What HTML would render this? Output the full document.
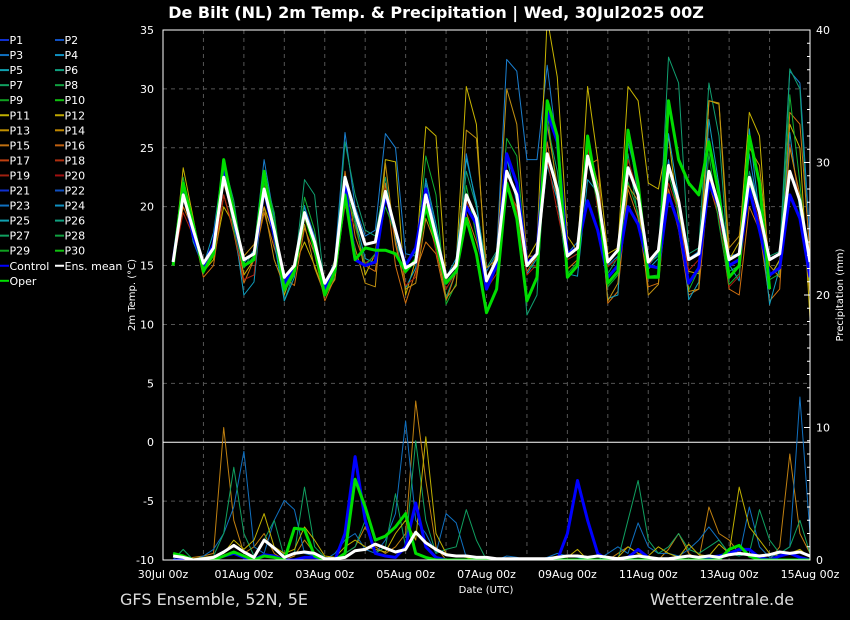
<!DOCTYPE html>
<html><head><meta charset="utf-8"><style>
html,body{margin:0;padding:0;background:#000;}
svg{display:block;font-family:"DejaVu Sans","Liberation Sans",sans-serif;}
</style></head><body>
<svg id="c" width="850" height="620" viewBox="0 0 850 620">
<rect x="0" y="0" width="850" height="620" fill="#000"/>
<text x="436" y="18" text-anchor="middle" fill="#fff" font-size="16" font-weight="bold">De Bilt  (NL)  2m Temp. &amp; Precipitation | Wed, 30Jul2025 00Z</text>
<g id="grid"></g>
<defs><clipPath id="pc"><rect x="163" y="30" width="647" height="530"/></clipPath></defs>
<g id="series" clip-path="url(#pc)"></g>
<g id="axes"></g>
<g id="legend"></g>
<text x="135" y="295" transform="rotate(-90 135 295)" text-anchor="middle" fill="#fff" font-size="10">2m Temp. (°C)</text>
<text x="843" y="295" transform="rotate(-90 843 295)" text-anchor="middle" fill="#fff" font-size="10">Precipitation (mm)</text>
<text x="486" y="593" text-anchor="middle" fill="#fff" font-size="10">Date (UTC)</text>
<text x="120" y="605" fill="#ddd" font-size="16">GFS Ensemble, 52N, 5E</text>
<text x="650" y="605" fill="#ddd" font-size="16">Wetterzentrale.de</text>
</svg>
<script>
const xTicks = ["30Jul 00z","01Aug 00z","03Aug 00z","05Aug 00z","07Aug 00z","09Aug 00z","11Aug 00z","13Aug 00z","15Aug 00z"];
const tempTicks = [-10,-5,0,5,10,15,20,25,30,35];
const precipTicks = [0,10,20,30,40];
const meanT = [15.3,21,18,15.2, 16.5,22.5,19,15.5, 16,21.5,18,14, 15,19.5,17,13.5, 15,22.5,19.5,16.8, 17,21.3,18,14.8, 15.3,21,17.5,14, 15,21,19,13.7, 15.5,23,21,15, 16,24.5,21.5,15.8, 16.5,24.3,21,15.3, 16.3,23.3,21,15.3, 16.3,23.5,20.5,15.5, 16,23,20,15.5, 16,22.5,19.5,15.5, 16,23,20.5,15.3];
const controlT = [15.3,21.5,17.5,15, 16.8,23,19,15, 15.5,21.5,17.5,13.5, 14.8,19.5,17,13, 14.5,22,15.5,15, 15.3,21,18,15, 16.5,21.5,17,13.5, 14.5,20,18.5,13, 15,24.5,22,15.2, 16,28,25.5,16, 16.5,20.5,18,14, 15,20,18.5,15, 14.8,21,18.5,13.5, 14.8,22,20,15, 15.5,21.5,18,14.2, 14.8,21,19,14];
const operT = [15,22,18.5,14.5, 16,24,19.5,15, 15.5,23,18,13, 14.5,19.5,16.5,12.5, 14.5,21,15.5,16.5, 16.3,16.3,16,14.5, 15.5,20,17,13.5, 14.5,19,16,11, 13,22,19,12, 14,29,26,14, 15,26,21,13.5, 14.5,26.5,22,14, 14,29,24,22, 21,25.5,21,14, 15,26,22,13];
const memberT1 = [15.2,22,17,14.8, 16.2,24,18.5,15.2, 16.3,24,19,13.5, 14.8,20,17.5,13.2, 15.5,26.3,20,17.5, 18,26.2,25,16, 15.8,22,18,13.8, 15,24.5,20,14.5, 16,32.5,31.5,24, 24,32,25,16, 17,25,22,15, 15.8,25.5,22,15, 16,24,19,15.6, 16.2,25.8,21,15.8, 16,24.5,19,14, 15.4,31.5,30.5,17];
const memberT2 = [15,23.3,19,14.5, 15.5,20,18.5,14.2, 15.5,20,17.5,12.5, 15,17,15,12.5, 15.5,21,19,14.2, 16,24,23.8,12.5, 15.5,26.8,26,13.8, 15.3,30.2,27,13.5, 16,21.5,20,15.5, 17,36,31,17.5, 16.2,30.2,24,16, 16.5,30.2,29,22, 21.5,26,19,14.5, 14.3,29,28.7,15.5, 17,28,26,14, 15.5,27,25,10.5];
const memberT3 = [15.4,21,17.5,15.2, 16.8,23.8,20.5,14.8, 16.3,22.8,19.5,12, 14.5,22.3,21,13, 14.8,25.5,21,18, 17.5,22.5,17,15, 16.2,21,18,12.3, 14.5,23,20,14.8, 16.2,24,22,10.8, 12.5,27,23,15.5, 16,25,22,14.3, 15.7,24.5,19,15.2, 15.8,32.7,30.5,16, 16.5,30.5,26,14.5, 15,23,20,15.8, 16.2,31.7,30,15];
const memberT4 = [15,20,18,14, 15,21,17.8,13.5, 15.5,19.5,16.5,14, 13.3,18.2,16,12, 14,23,17.5,15, 14.5,22,15,11.8, 14.5,17,16,12, 14.5,19.5,17,14, 15.5,21.5,20,14.5, 15.8,25.5,20.5,14.7, 15.5,23.5,24,11.8, 12.8,21.5,19,13.2, 13.5,21.5,18,12.5, 13,22,19,13, 12.5,20,18,12, 13,28,27,16];
const memberT5 = [15.3,21.2,17,15, 17.8,23.9,18.5,12.5, 13.6,22,17,12, 14,20.1,16,13.5, 14.9,22.5,19,15.6, 15.2,21,17.3,13.1, 14.8,22.4,18.5,14, 15.6,24.1,20.4,14, 15.3,24.2,20.3,14.3, 15.6,23.5,20.6,14.3, 14.1,22.3,21.2,12.2, 12.5,26.3,21.1,14.7, 15.6,26.2,20.8,12.1, 13.6,27.4,21.8,15.1, 13.7,26.6,19.2,11.7, 14.8,26.3,19.6,14.5];
const memberT6 = [15.2,19.5,17.5,14.5, 15.8,21,18,13.8, 14.2,22,17,13.5, 14.5,19,16.5,12.8, 14.9,20,18.3,15.2, 15.8,21.5,17,13.3, 14,20,16.2,13, 14.5,20.5,18.2,13, 14.3,22.2,19.7,14.2, 15.1,24,19.6,15.5, 16,25.1,19.8,14.9, 15.6,24,21.2,15, 16.3,22,19.5,14.6, 15.5,22.4,19,13.2, 14.1,21.8,18.7,14.1, 14.9,25.3,20.4,14.2];
const memberT7 = [15.2,22.5,18,14.3, 16.3,23,18,14.8, 15.8,22,19.5,12.8, 14.2,20.8,18,12.8, 14,22,18.5,15, 16,20,17.7,14.5, 15.3,24.3,21,11.7, 13.5,21.8,17.5,13, 15.3,25.8,24.3,15, 14.8,28.1,21,14.3, 15.3,24,20.3,13.2, 14.2,22.1,19.5,14.1, 14.2,22.8,19.5,12.9, 14.7,24.5,18.5,13.4, 14.3,22.2,17.8,13.8, 14.3,29.5,22,13.2];
const memberT8 = [15,21.5,18.5,14.8, 16.5,22,19,15.8, 16.8,20,15.5,13.2, 14.5,18.5,14.8,12.5, 13.8,20.5,16.5,13.5, 13.2,23.7,16.8,13, 13.5,19,16.7,12.2, 13.3,26.5,25.8,14.8, 15.5,30,27,15.8, 15.8,27,21.8,15.8, 16.5,25.5,22,12, 13.5,21.8,20.5,12.5, 13.4,23.2,20.4,12.8, 13,29,28.8,16.5, 17.5,25,23.5,15, 14,25,21,12.6];
const meanP = [0.3,0.2,0,0.1, 0.2,0.6,1.1,0.6, 0.2,1.5,0.9,0.2, 0.5,0.6,0.5,0.1, 0.1,0.2,0.7,0.8, 1.2,0.9,0.6,0.8, 2.1,1.3,0.8,0.4, 0.3,0.3,0.2,0.2, 0.1,0.1,0.1,0.1, 0.1,0.1,0.2,0.3, 0.3,0.2,0.3,0.2, 0.1,0.2,0.3,0.2, 0.1,0.1,0.2,0.3, 0.2,0.3,0.2,0.4, 0.5,0.4,0.3,0.4, 0.6,0.5,0.6,0.3];
const controlP = [0,0,0,0, 0,0.3,0.5,0.2, 0,0.4,0.3,0, 0,0.2,0.2,0, 0,2,7.8,3, 0.5,0.3,0.2,1, 4.3,1,0.2,0, 0,0,0,0, 0,0,0,0, 0,0,0,2, 6,3,0.5,0, 0,0.2,0.8,0.2, 0,0,0,0, 0,0.2,0.3,0.5, 0.8,0.8,0.2,0, 0.3,0.5,0.2,0];
const operP = [0.5,0.3,0,0, 0,0.3,0.6,0.3, 0,0.3,0.2,0, 2.4,2.3,0.3,0, 0,0.5,6.1,4, 1.5,1.8,2.5,3.5, 0.5,0.2,0,0, 0,0,0,0, 0,0,0,0, 0,0,0,0, 0,0,0,0, 0,0,0,0, 0,0,0,0, 0,0,0,0.8, 1.1,0.3,0,0, 0,0,0,0];
const memberP1 = [0,0,0.2,0.3, 0.5,10,3,0.5, 1,2,0.5,0, 0.3,1.5,0.5,0, 0,0.5,1,2.5, 1,0.5,1,2, 12,6,1,0, 0,0,0,0, 0,0,0,0, 0,0,0,0, 0,0,0,0, 0.5,1,0.5,0, 0,0.8,2,0.5, 0,4,2,1.5, 0.5,0.3,0,0, 1,8,2,0.5];
const memberP2 = [0,0,0,0.3, 0.8,2,4,8.2, 1,0.5,3,4.5, 3.8,0.5,0.3,0, 0.5,1.5,2,0.8, 0.5,1.5,3.5,10.5, 3,2,0.5,3.5, 2.8,0.2,0,0, 0,0.3,0.2,0, 0,0.2,0.5,0.3, 0.2,0,0,0.5, 1,0.5,2.8,1, 0.5,0.5,0.3,0.8, 1.5,2.5,1.5,0.5, 0.3,4,1,0.2, 0.5,1,12.3,2];
const memberP3 = [0,0.8,0,0, 0.3,2,7,2, 0.3,1.5,3,0.2, 0.5,5.5,1,0.2, 0,0.5,1,3, 0.5,1,5,1, 9,3,0.5,0.8, 1,3.8,1.5,0, 0,0,0,0, 0,0,0,0, 0,0,0,0, 0,3,6,1.5, 0.5,1,2,0.8, 0.5,1,1.5,0.5, 0.3,0.5,3.8,1.5, 0.5,1,3,0.5];
const memberP4 = [0,0,0.1,0.2, 0.3,0.5,1.5,0.8, 1.5,3.5,1,0.5, 0.8,2.5,1.5,0.3, 0.2,1,1.5,1, 0.8,0.6,2,3, 1.5,9.3,2,0.5, 0.3,0.2,0,0, 0,0,0,0, 0,0.1,0.3,0.2, 0.8,0,0,0.1, 0.2,1,0.5,0.3, 1,0.5,0.2,1.2, 0.4,0.3,1.2,0.5, 5.5,2.5,1.5,0.5, 0.3,0.5,0.8,0.2];
const tempMembers = [memberT1,memberT2,memberT3,memberT4,memberT5,memberT6,memberT7,memberT8];
const precipMembers = [memberP1,memberP2,memberP3,memberP4];
const tempMemberColors = ["#1a7fd0","#c8b400","#10a070","#d07010","#10a0c0","#b02010","#10b030","#c09010"];
const precipMemberColors = ["#c08010","#1070c0","#10a060","#c0b000"];
const legendLabels = ["P1","P2","P3","P4","P5","P6","P7","P8","P9","P10","P11","P12","P13","P14","P15","P16","P17","P18","P19","P20","P21","P22","P23","P24","P25","P26","P27","P28","P29","P30","Control","Ens. mean","Oper"];
const legendColors = ["#1030d0","#1050c0","#1070c0","#1090c0","#10a0b0","#10a080","#10a060","#10a040","#10a020","#10c010","#c0b000","#c0a800","#c09000","#c08800","#c07010","#c06010","#c04010","#b03010","#a02010","#a01010","#1030d0","#1050c0","#1070c0","#1090c0","#10a0b0","#10a080","#10a060","#10a040","#10a020","#10c010","#0000ff","#ffffff","#00e000"];

const NS="http://www.w3.org/2000/svg";
const X0=163,X1=810,Y0=30,Y1=560;
function xS(t){return X0+t*(X1-X0)/16;}
function yT(v){return Y1-(v+10)*(Y1-Y0)/45;}
function yP(v){return Y1-v*(Y1-Y0)/40;}
function mk(tag,attrs,parent){const e=document.createElementNS(NS,tag);for(const k in attrs)e.setAttribute(k,attrs[k]);parent.appendChild(e);return e;}
const grid=document.getElementById('grid'),series=document.getElementById('series'),axes=document.getElementById('axes'),legend=document.getElementById('legend');

for(let d=1;d<16;d++){const l=mk('line',{x1:xS(d),x2:xS(d),y1:Y0,y2:Y1,stroke:'#555','stroke-dasharray':'4,4','stroke-width':1},grid);

}
tempTicks.forEach(v=>{if(v===-10||v===35)return;const y=yT(v);const l=mk('line',{x1:X0,x2:X1,y1:y,y2:y,stroke:v===0?'#fff':'#555','stroke-dasharray':v===0?'none':'4,4','stroke-width':1},grid);

});

function path(vals,yf,color,w,name){let d='';vals.forEach((v,i)=>{d+=(i?'L':'M')+xS(0.25*(i+1)).toFixed(1)+','+yf(v).toFixed(1);});
const p=mk('path',{d:d,fill:'none',stroke:color,'stroke-width':w,'stroke-linejoin':'round'},series);

}
tempMembers.forEach((m,i)=>path(m,yT,tempMemberColors[i],1,'temp-member-line'));
precipMembers.forEach((m,i)=>path(m,yP,precipMemberColors[i],1,'precip-member-line'));
path(controlT,yT,'#0000ff',3,'temp-control-line');
path(controlP,yP,'#0000ff',3,'precip-control-line');
path(operT,yT,'#00dd00',3,'temp-oper-line');
path(operP,yP,'#00dd00',3,'precip-oper-line');
path(meanT,yT,'#ffffff',3,'temp-mean-line');
path(meanP,yP,'#ffffff',3,'precip-mean-line');

const fr=mk('rect',{x:X0,y:Y0,width:X1-X0,height:Y1-Y0,fill:'none',stroke:'#fff','stroke-width':1},axes);


tempTicks.forEach(v=>{const t=mk('text',{x:154,y:yT(v)+4,'text-anchor':'end',fill:'#fff','font-size':11},axes);t.textContent=v;

});
for(let m=0;m<=40;m++){const y=yP(m);const l=mk('line',{x1:X1-(m%10===0?6:3),x2:X1,y1:y,y2:y,stroke:'#fff','stroke-width':1},axes);

}
precipTicks.forEach(v=>{const t=mk('text',{x:816,y:yP(v)+4,fill:'#fff','font-size':11},axes);t.textContent=v;

});
xTicks.forEach((s,i)=>{const t=mk('text',{x:xS(i*2),y:578,'text-anchor':'middle',fill:'#fff','font-size':11},axes);t.textContent=s;

});

legendLabels.forEach((s,i)=>{let col,row;if(i<30){col=i%2;row=Math.floor(i/2);}else if(i<32){col=i-30;row=15;}else{col=0;row=16;}
const x=col*55,y=40+row*15.05;
const l=mk('line',{x1:x,x2:x+9,y1:y,y2:y,stroke:legendColors[i],'stroke-width':2},legend);


const t=mk('text',{x:x+9.5,y:y+4,fill:'#fff','font-size':11},legend);t.textContent=s;

});
</script>
</body></html>
